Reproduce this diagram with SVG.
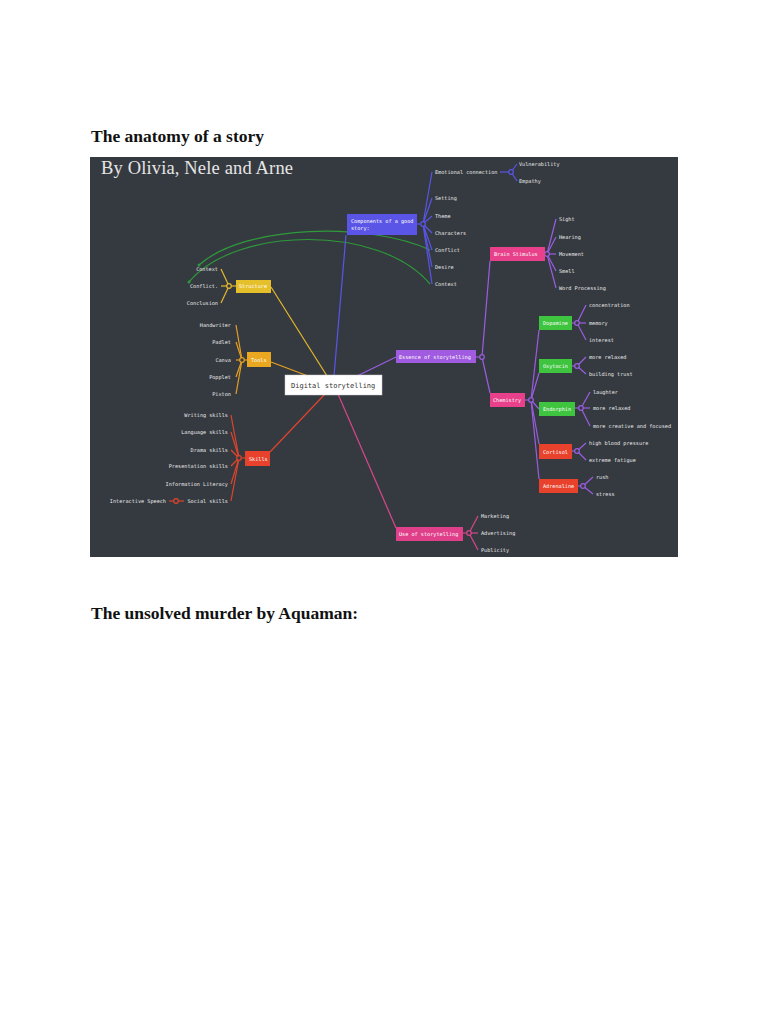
<svg xmlns="http://www.w3.org/2000/svg" width="768" height="1024" viewBox="0 0 768 1024">
<style>
.h{font-family:"Liberation Serif",serif;font-weight:bold;font-size:17.5px;fill:#111}
.t{font-family:"DejaVu Sans Mono",monospace;font-size:5.2px;fill:#e8e8e8}
.e{text-anchor:end}
.bt{font-family:"DejaVu Sans Mono",monospace;font-size:5.2px;fill:#fff}
.c path,.c line{fill:none;stroke-width:1.2}
.hub{fill:#353a40;stroke-width:1.2}
</style>
<rect width="768" height="1024" fill="#fff"/>
<text class="h" x="91" y="142" textLength="173">The anatomy of a story</text>
<text class="h" x="91" y="619" textLength="267">The unsolved murder by Aquaman:</text>
<rect x="90" y="157" width="588" height="400" fill="#353a40"/>
<text x="101" y="174" font-family="Liberation Serif,serif" font-size="18.5" fill="#e6e6e6" textLength="192">By Olivia, Nele and Arne</text>

<g id="connectors" class="c">
  <path d="M199,265 C245,224 370,222 430,250" stroke="#2e9a3a"/>
  <path d="M189,282 C235,226 380,224 430,284" stroke="#2e9a3a"/>
  <line x1="334" y1="376" x2="346" y2="235" stroke="#5a55e6"/>
  <line x1="327" y1="376" x2="271" y2="287" stroke="#e6b82a"/>
  <line x1="308" y1="376" x2="271" y2="362" stroke="#e8a020"/>
  <line x1="325" y1="394" x2="270" y2="452" stroke="#e0442c"/>
  <line x1="357" y1="376" x2="396" y2="357" stroke="#9b5de0"/>
  <line x1="338" y1="394" x2="396" y2="528" stroke="#d9468a"/>
  <g stroke="#5a55e6">
    <line x1="417" y1="224" x2="423" y2="224"/>
    <line x1="423" y1="224" x2="432" y2="172"/>
    <line x1="423" y1="224" x2="432" y2="198"/>
    <line x1="423" y1="224" x2="432" y2="216"/>
    <line x1="423" y1="224" x2="432" y2="233"/>
    <line x1="423" y1="224" x2="432" y2="250"/>
    <line x1="423" y1="224" x2="432" y2="267"/>
    <line x1="423" y1="224" x2="432" y2="284"/>
    <line x1="500" y1="172" x2="511" y2="172"/>
    <line x1="511" y1="172" x2="517" y2="164"/>
    <line x1="511" y1="172" x2="517" y2="181"/>
  </g>
  <g stroke="#e6b82a">
    <line x1="236" y1="286" x2="229" y2="286"/>
    <line x1="229" y1="286" x2="221" y2="269"/>
    <line x1="229" y1="286" x2="221" y2="286"/>
    <line x1="229" y1="286" x2="221" y2="303"/>
  </g>
  <g stroke="#e8a020">
    <line x1="247" y1="360" x2="242" y2="360"/>
    <line x1="242" y1="360" x2="236" y2="325"/>
    <line x1="242" y1="360" x2="236" y2="342"/>
    <line x1="242" y1="360" x2="236" y2="360"/>
    <line x1="242" y1="360" x2="236" y2="377"/>
    <line x1="242" y1="360" x2="236" y2="394"/>
  </g>
  <g stroke="#e0442c">
    <line x1="245" y1="458" x2="239" y2="458"/>
    <line x1="239" y1="458" x2="231" y2="415"/>
    <line x1="239" y1="458" x2="231" y2="432"/>
    <line x1="239" y1="458" x2="231" y2="450"/>
    <line x1="239" y1="458" x2="231" y2="466"/>
    <line x1="239" y1="458" x2="231" y2="484"/>
    <line x1="239" y1="458" x2="231" y2="501"/>
    <line x1="184" y1="501" x2="169" y2="501"/>
  </g>
  <g stroke="#9b5de0">
    <line x1="476" y1="357" x2="482" y2="357"/>
    <line x1="482" y1="357" x2="490" y2="261"/>
    <line x1="482" y1="357" x2="490" y2="393"/>
    <line x1="545" y1="254" x2="547" y2="254"/>
    <line x1="547" y1="254" x2="556" y2="219"/>
    <line x1="547" y1="254" x2="556" y2="237"/>
    <line x1="547" y1="254" x2="556" y2="254"/>
    <line x1="547" y1="254" x2="556" y2="271"/>
    <line x1="547" y1="254" x2="556" y2="288"/>
    <line x1="525" y1="400" x2="531" y2="400"/>
    <line x1="531" y1="400" x2="539" y2="330"/>
    <line x1="531" y1="400" x2="539" y2="373"/>
    <line x1="531" y1="400" x2="539" y2="409"/>
    <line x1="531" y1="400" x2="539" y2="444"/>
    <line x1="531" y1="400" x2="539" y2="479"/>
    <line x1="572" y1="323" x2="577" y2="323"/>
    <line x1="577" y1="323" x2="586" y2="305"/>
    <line x1="577" y1="323" x2="586" y2="323"/>
    <line x1="577" y1="323" x2="586" y2="340"/>
    <line x1="572" y1="366" x2="577" y2="366"/>
    <line x1="577" y1="366" x2="586" y2="357"/>
    <line x1="577" y1="366" x2="586" y2="374"/>
    <line x1="575" y1="408" x2="581" y2="408"/>
    <line x1="581" y1="408" x2="590" y2="392"/>
    <line x1="581" y1="408" x2="590" y2="408"/>
    <line x1="581" y1="408" x2="590" y2="426"/>
    <line x1="572" y1="451" x2="577" y2="451"/>
    <line x1="577" y1="451" x2="586" y2="443"/>
    <line x1="577" y1="451" x2="586" y2="460"/>
    <line x1="578" y1="486" x2="583" y2="486"/>
    <line x1="583" y1="486" x2="593" y2="477"/>
    <line x1="583" y1="486" x2="593" y2="494"/>
  </g>
  <g stroke="#d9468a">
    <line x1="463" y1="533" x2="469" y2="533"/>
    <line x1="469" y1="533" x2="478" y2="516"/>
    <line x1="469" y1="533" x2="478" y2="533"/>
    <line x1="469" y1="533" x2="478" y2="550"/>
  </g>
  <circle class="hub" cx="423" cy="224" r="2.3" stroke="#5a55e6"/>
  <circle class="hub" cx="511" cy="172" r="2.3" stroke="#5a55e6"/>
  <circle class="hub" cx="229" cy="286" r="2.3" stroke="#e6b82a"/>
  <circle class="hub" cx="242" cy="360" r="2.3" stroke="#e8a020"/>
  <circle class="hub" cx="239" cy="458" r="2.3" stroke="#e0442c"/>
  <circle class="hub" cx="176" cy="501" r="2.3" stroke="#e0442c"/>
  <circle class="hub" cx="482" cy="357" r="2.3" stroke="#9b5de0"/>
  <circle class="hub" cx="547" cy="254" r="2.3" stroke="#9b5de0"/>
  <circle class="hub" cx="531" cy="400" r="2.3" stroke="#9b5de0"/>
  <circle class="hub" cx="577" cy="323" r="2.3" stroke="#9b5de0"/>
  <circle class="hub" cx="577" cy="366" r="2.3" stroke="#9b5de0"/>
  <circle class="hub" cx="581" cy="408" r="2.3" stroke="#9b5de0"/>
  <circle class="hub" cx="577" cy="451" r="2.3" stroke="#9b5de0"/>
  <circle class="hub" cx="583" cy="486" r="2.3" stroke="#9b5de0"/>
  <circle class="hub" cx="469" cy="533" r="2.3" stroke="#d9468a"/>
  <circle cx="199" cy="265" r="1.5" fill="#2e9a3a"/>
  <circle cx="189" cy="282" r="1.5" fill="#2e9a3a"/>
</g>

<g id="n-central">
  <rect x="285" y="375" width="97" height="20" fill="#fff" stroke="#ccc" stroke-width="0.5"/>
  <text x="291" y="387.5" font-family="DejaVu Sans Mono,monospace" font-size="7" fill="#333">Digital storytelling</text>
</g>

<g id="n-components">
  <rect x="347" y="214" width="70" height="21" fill="#5a55e6"/>
  <text class="bt" x="351" y="223">Components of a good</text>
  <text class="bt" x="351" y="230">story:</text>
</g>
<g id="n-comp-children">
  <text class="t" x="435" y="174">Emotional connection</text>
  <text class="t" x="435" y="200">Setting</text>
  <text class="t" x="435" y="218">Theme</text>
  <text class="t" x="435" y="235">Characters</text>
  <text class="t" x="435" y="252">Conflict</text>
  <text class="t" x="435" y="269">Desire</text>
  <text class="t" x="435" y="286">Context</text>
  <text class="t" x="519" y="166">Vulnerability</text>
  <text class="t" x="519" y="183">Empathy</text>
</g>

<g id="n-structure">
  <rect x="236" y="280" width="35" height="13" fill="#e6c02a"/>
  <text class="bt" x="239" y="288">Structure</text>
  <text class="t e" x="218" y="271">Context</text>
  <text class="t e" x="218" y="288">Conflict.</text>
  <text class="t e" x="218" y="305">Conclusion</text>
</g>

<g id="n-tools">
  <rect x="247" y="352" width="24" height="15" fill="#eaa820"/>
  <text class="bt" x="251" y="361.5">Tools</text>
  <text class="t e" x="231" y="327">Handwriter</text>
  <text class="t e" x="231" y="344">Padlet</text>
  <text class="t e" x="231" y="362">Canva</text>
  <text class="t e" x="231" y="379">Popplet</text>
  <text class="t e" x="231" y="396">Pixton</text>
</g>

<g id="n-skills">
  <rect x="245" y="451" width="25" height="15" fill="#e8412c"/>
  <text class="bt" x="249" y="460.5">Skills</text>
  <text class="t e" x="228" y="417">Writing skills</text>
  <text class="t e" x="228" y="434">Language skills</text>
  <text class="t e" x="228" y="452">Drama skills</text>
  <text class="t e" x="228" y="468">Presentation skills</text>
  <text class="t e" x="228" y="486">Information Literacy</text>
  <text class="t e" x="228" y="503">Social skills</text>
  <text class="t e" x="166" y="503">Interactive Speech</text>
</g>

<g id="n-essence">
  <rect x="396" y="350" width="80" height="13" fill="#a05be0"/>
  <text class="bt" x="399" y="358.5">Essence of storytelling</text>
</g>
<g id="n-brain">
  <rect x="490" y="247" width="55" height="14" fill="#e8408a"/>
  <text class="bt" x="494" y="256">Brain Stimulus</text>
  <text class="t" x="559" y="221">Sight</text>
  <text class="t" x="559" y="239">Hearing</text>
  <text class="t" x="559" y="256">Movement</text>
  <text class="t" x="559" y="273">Smell</text>
  <text class="t" x="559" y="290">Word Processing</text>
</g>
<g id="n-chemistry">
  <rect x="490" y="393" width="35" height="14" fill="#e8408a"/>
  <text class="bt" x="493" y="402">Chemistry</text>
</g>
<g id="n-dopamine">
  <rect x="539" y="316" width="33" height="14" fill="#3ec43e"/>
  <text class="bt" x="543" y="325">Dopamine</text>
  <text class="t" x="589" y="307">concentration</text>
  <text class="t" x="589" y="325">memory</text>
  <text class="t" x="589" y="342">interest</text>
</g>
<g id="n-oxytocin">
  <rect x="539" y="359" width="33" height="14" fill="#3ec43e"/>
  <text class="bt" x="543" y="368">Oxytocin</text>
  <text class="t" x="589" y="359">more relaxed</text>
  <text class="t" x="589" y="376">building trust</text>
</g>
<g id="n-endorphin">
  <rect x="539" y="402" width="36" height="14" fill="#3ec43e"/>
  <text class="bt" x="543" y="411">Endorphin</text>
  <text class="t" x="593" y="394">laughter</text>
  <text class="t" x="593" y="410">more relaxed</text>
  <text class="t" x="593" y="428">more creative and focused</text>
</g>
<g id="n-cortisol">
  <rect x="539" y="444" width="33" height="15" fill="#e8412c"/>
  <text class="bt" x="543" y="453.5">Cortisol</text>
  <text class="t" x="589" y="445">high blood pressure</text>
  <text class="t" x="589" y="462">extreme fatigue</text>
</g>
<g id="n-adrenaline">
  <rect x="539" y="479" width="39" height="14" fill="#e8412c"/>
  <text class="bt" x="543" y="488">Adrenaline</text>
  <text class="t" x="596" y="479">rush</text>
  <text class="t" x="596" y="496">stress</text>
</g>

<g id="n-use">
  <rect x="396" y="527" width="67" height="14" fill="#e0408a"/>
  <text class="bt" x="399" y="536">Use of storytelling</text>
  <text class="t" x="481" y="518">Marketing</text>
  <text class="t" x="481" y="535">Advertising</text>
  <text class="t" x="481" y="552">Publicity</text>
</g>
</svg>
